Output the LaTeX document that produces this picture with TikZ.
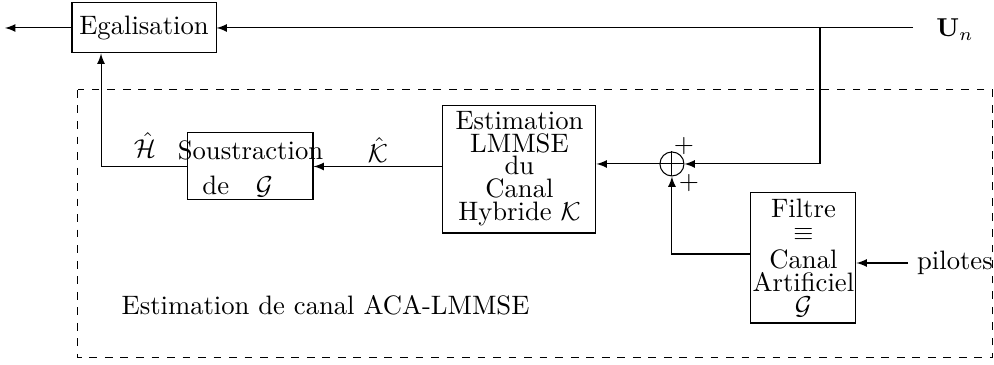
\documentclass[tikz,border=0pt]{standalone}
\usepackage{amsmath}
\usepackage{amsfonts}
\usepackage{amssymb}
\usepackage{tikz}
\usetikzlibrary{arrows}

\tikzset{
  every node/.style={font=\fontsize{10.3}{12.4}\selectfont},
  blk/.style={draw, inner sep=0pt},
  tight/.style={align=center, font=\fontsize{10.3}{8.8}\selectfont},
  sig/.style={-latex},
}

\begin{document}
\begin{tikzpicture}[>=latex]
%%Location
\useasboundingbox (0,0) rectangle (13.5,-4.957);

%%Blocks
\node [blk, minimum width=1.956cm, minimum height=0.679cm] (egal) at (1.956,-0.380) {Egalisation};
\node [blk, tight, minimum width=2.078cm, minimum height=1.725cm] (est) at (7.055,-2.302)
  {Estimation\\LMMSE\\du\\Canal\\Hybride $\mathcal{K}$\\[-6pt]};
\node [blk, minimum width=1.698cm, minimum height=0.910cm] (sous) at (3.402,-2.261) {};
\node [align=center] (soustxt) at (3.402,-2.294) {Soustraction\\[1pt]de\quad$\mathcal{G}$\hspace*{0.35cm}};
\node [blk, tight, minimum width=1.426cm, minimum height=1.766cm] (filt) at (10.912,-3.504)
  {Filtre\\$\equiv$\\[2pt]Canal\\Artificiel\\$\mathcal{G}$};
\node [draw, circle, minimum size=0.326cm, inner sep=0pt] (sum) at (9.126,-2.227) {};
\draw (sum.north) -- (sum.south);
\draw (sum.west) -- (sum.east);

%%Inputs and outputs
\coordinate (out) at (0.068,-0.380);
\coordinate (in) at (12.40,-0.380);
\coordinate (jct) at (11.137,-0.380);
\node (Un) at (12.97,-0.400) {$\mathbf{U}_n$};
\node (pil) at (12.97,-3.572) {pilotes};

%%Connections
\draw [sig] (egal.west) -- (out);
\draw [sig] (in) -- (egal.east);
\draw [sig] (jct) |- (sum.east);
\draw [sig] (sum.west) -- (sum.west -| est.east);
\draw [sig] (est.west |- sous.east) -- (sous.east);
\draw [sig] (sous.west) -| (egal.south -| 1.372,0);
\draw [sig] (filt.west |- 0,-3.450) -| (sum.south);
\draw [sig] (pil.west) -- (pil.west -| filt.east);

%%Labels
\node (hH) at (1.969,-1.969) {$\hat{\mathcal{H}}$};
\node (hK) at (5.134,-2.040) {$\hat{\mathcal{K}}$};
\node (p1) at (9.290,-1.980) {$+$};
\node (p2) at (9.357,-2.485) {$+$};

%%Estimator
\draw [dashed] (1.059,-1.222) rectangle (13.486,-4.862);
\node (lab) at (4.421,-4.142) {Estimation de canal ACA-LMMSE};

\end{tikzpicture}
\end{document}
